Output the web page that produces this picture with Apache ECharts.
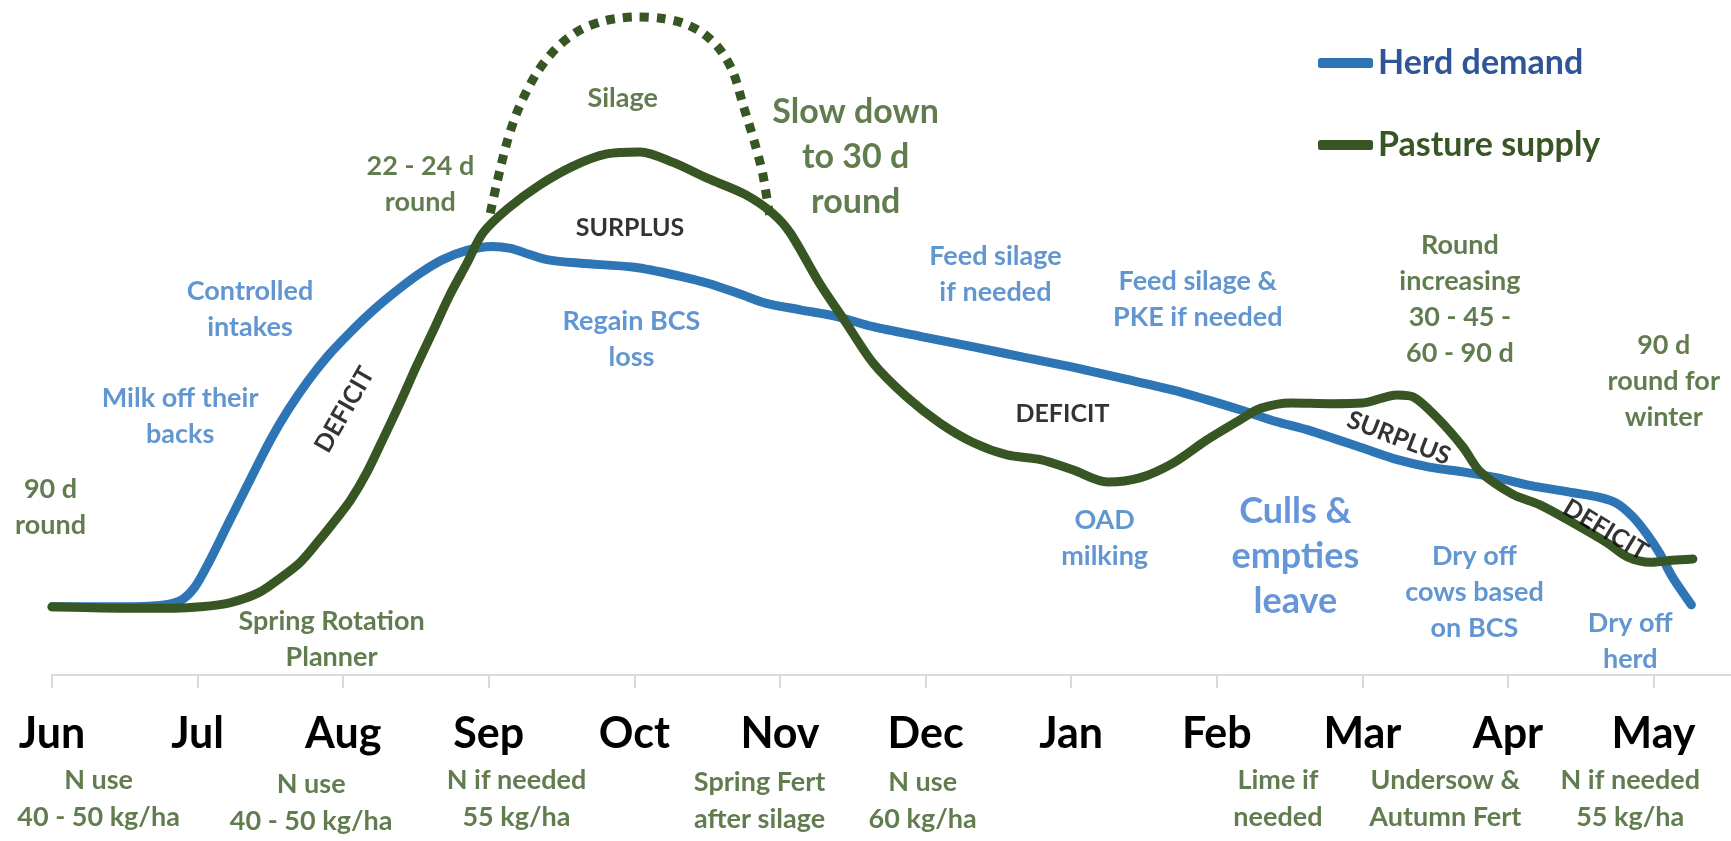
<!DOCTYPE html>
<html>
<head>
<meta charset="utf-8">
<title>Herd demand vs pasture supply</title>
<script src="https://cdn.jsdelivr.net/npm/echarts@6/dist/echarts.min.js"></script>
<style>
  html, body { margin: 0; padding: 0; background: #fff; }
  #grafico { width: 1731px; height: 841px; }
</style>
</head>
<body>
<div id="grafico"></div>
<script>
// months along the season, Jun = 0
var months = ['Jun', 'Jul', 'Aug', 'Sep', 'Oct', 'Nov', 'Dec', 'Jan', 'Feb', 'Mar', 'Apr', 'May'];

// relative feed level (0 = axis, 100 = top of plot)
var herdDemand = [
  [0, 10.1], [0.47, 10.1], [0.74, 10.3], [0.88, 11.0], [0.98, 13.0], [1.08, 16.8],
  [1.20, 22.0], [1.36, 28.9], [1.50, 34.8], [1.62, 39.2], [1.76, 43.6], [1.90, 47.4],
  [2.05, 50.8], [2.20, 53.9], [2.36, 56.8], [2.52, 59.4], [2.68, 61.5], [2.85, 62.9],
  [3.02, 63.5], [3.15, 63.2], [3.28, 62.3], [3.41, 61.5], [3.63, 61.0], [4.00, 60.4],
  [4.31, 59.1], [4.51, 58.0], [4.73, 56.4], [4.90, 55.1], [5.14, 54.1], [5.39, 53.1],
  [5.64, 51.6], [5.98, 50.1], [6.33, 48.6], [6.67, 47.1], [7.01, 45.6], [7.36, 43.9],
  [7.70, 42.2], [7.93, 40.8], [8.16, 39.3], [8.40, 37.6], [8.64, 36.2], [9.03, 33.4],
  [9.24, 31.9], [9.46, 30.8], [9.69, 30.1], [9.93, 29.2], [10.15, 28.1], [10.45, 27.0],
  [10.63, 26.3], [10.75, 25.4], [10.86, 23.4], [10.95, 21.0], [11.04, 18.1], [11.13, 14.5],
  [11.26, 10.4]
];

var pastureSupply = [
  [0, 10.1], [0.47, 9.9], [0.84, 9.9], [1.02, 10.1], [1.22, 10.7], [1.42, 12.2],
  [1.57, 14.4], [1.70, 16.6], [1.81, 19.3], [1.93, 22.5], [2.05, 25.9], [2.16, 29.9],
  [2.27, 34.8], [2.39, 40.3], [2.50, 45.6], [2.62, 51.1], [2.73, 56.2], [2.85, 61.0],
  [2.96, 65.5], [3.13, 69.1], [3.35, 72.6], [3.58, 75.4], [3.81, 77.2], [4.04, 77.5],
  [4.27, 75.9], [4.50, 73.6], [4.76, 71.2], [4.95, 68.4], [5.07, 65.5], [5.27, 58.1],
  [5.45, 52.3], [5.64, 46.2], [5.87, 41.2], [6.10, 37.3], [6.33, 34.4], [6.56, 32.6],
  [6.79, 31.9], [7.01, 30.4], [7.25, 28.6], [7.47, 29.2], [7.70, 31.4], [7.93, 34.8],
  [8.16, 37.8], [8.30, 39.5], [8.51, 40.3], [8.78, 40.2], [9.00, 40.3], [9.24, 41.5],
  [9.35, 41.2], [9.51, 38.2], [9.69, 33.8], [9.81, 30.1], [10.03, 26.8], [10.22, 25.2],
  [10.45, 22.5], [10.68, 19.6], [10.82, 17.5], [10.98, 16.7], [11.13, 17.0], [11.27, 17.2]
];

// supply if paddocks are not shut up for silage
var silagePeak = [
  [3.01, 68.4], [3.06, 73.3], [3.13, 79.3], [3.21, 84.2], [3.33, 89.2], [3.47, 93.0],
  [3.63, 95.6], [3.81, 97.0], [4.02, 97.5], [4.18, 97.3], [4.33, 96.6], [4.47, 95.1],
  [4.59, 92.6], [4.68, 89.2], [4.75, 84.2], [4.82, 79.3], [4.88, 74.4], [4.92, 69.3],
  [4.93, 68.2]
];

// notes: [month, level, text]
var demandNotes = [
  [0.88, 38.4, 'Milk off their\nbacks'],
  [1.36, 54.2, 'Controlled\nintakes'],
  [3.98, 49.7, 'Regain BCS\nloss'],
  [6.48, 59.3, 'Feed silage\nif needed'],
  [7.87, 55.6, 'Feed silage &\nPKE if needed'],
  [7.23, 20.2, 'OAD\nmilking'],
  [9.77, 12.2, 'Dry off\ncows based\non BCS'],
  [10.84, 5.0, 'Dry off\nherd']
];
var demandBigNotes = [
  [8.54, 17.6, 'Culls &\nempties\nleave']
];
var supplyNotes = [
  [-0.01, 24.8, '90 d\nround'],
  [2.53, 72.7, '22 - 24 d\nround'],
  [3.92, 85.5, 'Silage'],
  [1.92, 5.3, 'Spring Rotation\nPlanner'],
  [9.67, 55.7, 'Round\nincreasing\n30 - 45 -\n60 - 90 d'],
  [11.07, 43.5, '90 d\nround for\nwinter']
];
var supplyBigNotes = [
  [5.52, 76.7, 'Slow down\nto 30 d\nround']
];
var monthNotes = [
  [0.32, -18.4, 'N use\n40 - 50 kg/ha'],
  [1.78, -18.9, 'N use\n40 - 50 kg/ha'],
  [3.19, -18.4, 'N if needed\n55 kg/ha'],
  [4.86, -18.7, 'Spring Fert\nafter silage'],
  [5.98, -18.7, 'N use\n60 kg/ha'],
  [8.42, -18.3, 'Lime if\nneeded'],
  [9.57, -18.3, 'Undersow &\nAutumn Fert'],
  [10.84, -18.3, 'N if needed\n55 kg/ha']
];
// [month, level, text, angle]
var balanceNotes = [
  [3.97, 66.2, 'SURPLUS', 0],
  [2.01, 39.3, 'DEFICIT', 60],
  [6.94, 38.7, 'DEFICIT', 0],
  [9.25, 35.1, 'SURPLUS', -21],
  [10.67, 21.5, 'DEFICIT', -31]
];

var chartDom = document.getElementById('grafico');
var myChart = echarts.init(chartDom);
var option;

var font = 'Lato, "Open Sans", sans-serif';

function noteSeries(notes, color, size, lineHeight) {
  return {
    type: 'scatter',
    silent: true,
    clip: false,
    z: 5,
    symbolSize: 1,
    itemStyle: { color: 'rgba(0,0,0,0)' },
    data: notes.map(function (n) {
      var item = { name: n[2], value: [n[0], n[1]] };
      if (n[3]) item.label = { rotate: n[3] };
      return item;
    }),
    label: {
      show: true,
      position: 'inside',
      formatter: '{b}',
      color: color,
      fontFamily: font,
      fontWeight: 'bold',
      fontSize: size,
      lineHeight: lineHeight,
      align: 'center',
      verticalAlign: 'middle'
    }
  };
}

var tickValues = months.map(function (m, i) { return i; });

option = {
  animation: false,
  backgroundColor: '#fff',
  grid: { left: 52, right: 0, top: 0, bottom: 166 },
  legend: {
    orient: 'vertical',
    left: 1313,
    top: 38,
    icon: 'roundRect',
    itemWidth: 55,
    itemHeight: 10,
    itemGap: 42,
    selectedMode: false,
    textStyle: { fontFamily: font, fontWeight: 'bold', fontSize: 34, lineHeight: 40 },
    data: [
      { name: 'Herd demand', textStyle: { color: '#2f5597' } },
      { name: 'Pasture supply', textStyle: { color: '#375623' } }
    ]
  },
  xAxis: {
    type: 'value',
    min: 0,
    max: 11.532,
    interval: 1,
    splitLine: { show: false },
    axisLine: { lineStyle: { color: '#d9d9d9', width: 2 } },
    axisTick: { show: true, length: 13, customValues: tickValues, lineStyle: { color: '#d9d9d9', width: 2 } },
    axisLabel: {
      customValues: tickValues,
      margin: 38,
      color: '#000',
      fontFamily: font,
      fontWeight: 'bold',
      fontSize: 43,
      formatter: function (v) { return months[v] || ''; }
    }
  },
  yAxis: {
    type: 'value',
    min: 0,
    max: 100,
    show: false
  },
  series: [
    {
      name: 'Herd demand',
      type: 'line',
      data: herdDemand,
      smooth: 0.3,
      symbol: 'none',
      z: 3,
      lineStyle: { color: '#2e75b6', width: 9, cap: 'round' },
      itemStyle: { color: '#2e75b6' }
    },
    {
      name: 'Pasture supply',
      type: 'line',
      data: pastureSupply,
      smooth: 0.3,
      symbol: 'none',
      z: 4,
      lineStyle: { color: '#375623', width: 9, cap: 'round' },
      itemStyle: { color: '#375623' }
    },
    {
      name: 'Silage',
      type: 'line',
      data: silagePeak,
      smooth: 0.3,
      symbol: 'none',
      z: 2,
      lineStyle: { color: '#375623', width: 9, type: [9, 8], cap: 'butt' }
    },
    noteSeries(demandNotes, '#3b7cc6', 27, 36),
    noteSeries(demandBigNotes, '#3f7cd0', 36, 45),
    noteSeries(supplyNotes, '#3a5b22', 27, 36),
    noteSeries(supplyBigNotes, '#3a5b22', 34, 45),
    noteSeries(monthNotes, '#3a5b22', 27, 37),
    noteSeries(balanceNotes, '#000', 25, 30)
  ]
};

option && myChart.setOption(option);
</script>
</body>
</html>
